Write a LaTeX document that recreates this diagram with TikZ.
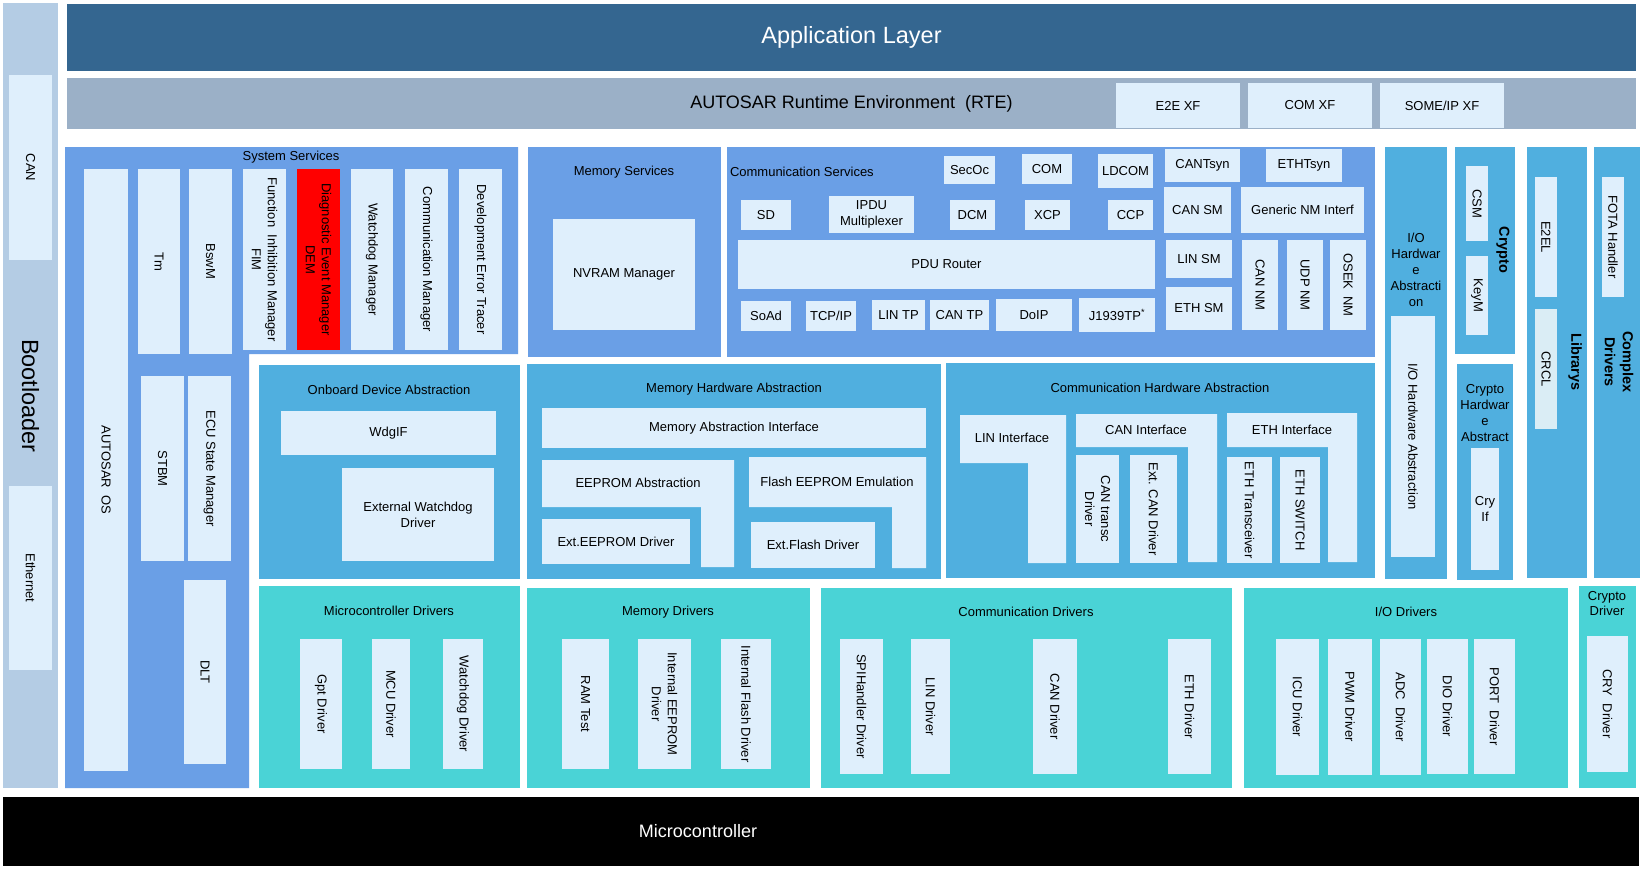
\documentclass[tikz,border=0pt]{standalone}
\usepackage{fontspec}
\setmainfont{Liberation Sans}
\definecolor{app}{RGB}{52,102,144}
\definecolor{rte}{RGB}{155,176,199}
\definecolor{boot}{RGB}{180,204,228}
\definecolor{lite}{RGB}{223,239,252}
\definecolor{svc}{RGB}{106,159,230}
\definecolor{hwa}{RGB}{80,175,223}
\definecolor{drv}{RGB}{74,211,214}
\definecolor{crcl}{RGB}{218,237,245}
\newcommand\fsm{\fontsize{13}{16}\selectfont}
\newcommand\bfsm{\fontsize{14.5}{18}\selectfont\bfseries}
% horizontal box: style, name, x1, y1, x2, y2, text
\newcommand\hb[7]{\pgfmathsetmacro\Bw{#5-#3}\pgfmathsetmacro\Bh{#6-#4}%
 \pgfmathsetmacro\Cx{(#3+#5)/2}\pgfmathsetmacro\Cy{(#4+#6)/2}%
 \node[#1, minimum width=\Bw pt, minimum height=\Bh pt] (#2) at (\Cx,\Cy) {#7};}
% vertical box with rotated text
\newcommand\vb[7]{\pgfmathsetmacro\Bw{#5-#3}\pgfmathsetmacro\Bh{#6-#4}%
 \pgfmathsetmacro\Cx{(#3+#5)/2}\pgfmathsetmacro\Cy{(#4+#6)/2}%
 \node[#1, rotate=-90, minimum width=\Bh pt, minimum height=\Bw pt] (#2) at (\Cx,\Cy) {#7};}
\begin{document}
\begin{tikzpicture}[x=1pt,y=-1pt,
  every node/.style={inner sep=0pt, outer sep=0pt},
  lt/.style={fill=lite, font=\fsm, align=center},
  lab/.style={font=\fsm, align=center},
  big/.style={rotate=-90, font=\bfsm, align=center}]
\useasboundingbox (0,0) rectangle (1641,868);
\fill[white] (0,0) rectangle (1641,868);

% top layers
\hb{fill=app, text=white, font=\fontsize{23.5}{28}\selectfont}{appl}{67}{4}{1636}{71}{Application Layer}
\hb{fill=rte, font=\fontsize{18}{22}\selectfont}{rte}{67}{78}{1636}{129}{AUTOSAR Runtime Environment~~(RTE)}
\hb{lt}{e2exf}{1116}{83}{1240}{128}{E2E XF}
\hb{lt}{comxf}{1248}{83}{1372}{128}{COM XF}
\hb{lt}{someipxf}{1380}{83}{1504}{128}{SOME/IP XF}

% bootloader
\hb{fill=boot}{boot}{3}{3}{58}{788}{}
\vb{lt}{can}{9}{75}{52}{260}{CAN}
\vb{lt}{eth}{9}{486}{52}{670}{Ethernet}
\node[rotate=-90, font=\fontsize{23.5}{28}\selectfont] (bootl) at (30.5,396) {Bootloader};

% system services
\fill[svc] (65,147) -- (518,147) -- (518,354) -- (249,354) -- (249,788) -- (65,788) -- cycle;
\node[lab] (syssvcl) at (291,157) {System Services};
\vb{lt}{os}{84}{169}{128}{771}{AUTOSAR~~OS}
\vb{lt}{tm}{138}{169}{180}{354}{Tm}
\vb{lt}{bswm}{189}{169}{232}{354}{BswM}
\vb{lt}{fim}{243}{169}{286}{350}{Function~~Inhibition Manager\\FIM}
\vb{fill=red, font=\fsm, align=center}{dem}{297}{169}{340}{350}{Diagnostic Event Manager\\DEM}
\vb{lt}{wdgm}{351}{169}{393}{350}{Watchdog Manager}
\vb{lt}{comm}{405}{169}{448}{350}{Communication Manager}
\vb{lt}{det}{459}{169}{502}{350}{Development Error Tracer}
\vb{lt}{stbm}{141}{376}{184}{561}{STBM}
\vb{lt}{ecum}{188}{376}{231}{561}{ECU State Manager}
\vb{lt}{dlt}{184}{580}{226}{764}{DLT}

% memory services
\hb{fill=svc}{memsvc}{528}{147}{721}{357}{}
\node[lab] (memsvcl) at (624,172) {Memory Services};
\hb{lt}{nvram}{553}{219}{695}{330}{NVRAM Manager}

% communication services
\hb{fill=svc}{comsvc}{727}{147}{1375}{357}{}
\node[lab, anchor=west] (comsvcl) at (730,172) {Communication Services};
\hb{lt}{secoc}{944}{156}{995}{184}{SecOc}
\hb{lt}{com}{1022}{154}{1072}{184}{COM}
\hb{lt}{ldcom}{1098}{154}{1153}{188}{LDCOM}
\hb{lt}{cantsyn}{1165}{149}{1240}{182}{CANTsyn}
\hb{lt}{ethtsyn}{1266}{149}{1342}{182}{ETHTsyn}
\hb{lt}{sd}{741}{200}{791}{230}{SD}
\hb{lt}{ipdum}{829}{196}{914}{233}{IPDU\\Multiplexer}
\hb{lt}{dcm}{950}{200}{995}{230}{DCM}
\hb{lt}{xcp}{1025}{200}{1070}{230}{XCP}
\hb{lt}{ccp}{1108}{200}{1153}{230}{CCP}
\hb{lt}{cansm}{1164}{187}{1231}{233}{CAN SM}
\hb{lt}{gennm}{1241}{187}{1364}{233}{Generic NM Interf}
\hb{lt}{pdur}{738}{240}{1155}{289}{PDU Router}
\hb{lt}{linsm}{1166}{240}{1232}{278}{LIN SM}
\hb{lt}{ethsm}{1166}{287}{1232}{330}{ETH SM}
\vb{lt}{cannm}{1242}{240}{1278}{330}{CAN NM}
\vb{lt}{udpnm}{1287}{240}{1323}{330}{UDP NM}
\vb{lt}{oseknm}{1330}{240}{1366}{330}{OSEK~~NM}
\hb{lt}{soad}{741}{301}{791}{331}{SoAd}
\hb{lt}{tcpip}{806}{301}{856}{331}{TCP/IP}
\hb{lt}{lintp}{872}{300}{925}{330}{LIN TP}
\hb{lt}{cantp}{930}{300}{989}{330}{CAN TP}
\hb{lt}{doip}{996}{299}{1072}{331}{DoIP}
\hb{lt}{jtp}{1079}{298}{1155}{332}{J1939TP\textsuperscript{*}}

% right columns
\hb{fill=hwa}{iohwa}{1385}{147}{1447}{579}{}
\node[lab] (iohwal) at (1416,270) {I/O\\Hardwar\\e\\Abstracti\\on};
\vb{lt}{iohwai}{1391}{316}{1435}{557}{I/O Hardware Abstraction}
\hb{fill=hwa}{crypto}{1455}{147}{1515}{354}{}
\vb{lt}{csm}{1466}{166}{1488}{241}{CSM}
\vb{lt}{keym}{1466}{256}{1488}{335}{KeyM}
\node[big] (cryptol) at (1503,250) {Crypto};
\hb{fill=hwa}{cryhwa}{1457}{364}{1513}{580}{}
\node[lab] (cryhwal) at (1485,413) {Crypto\\Hardwar\\e\\Abstract};
\hb{lt}{cryif}{1471}{448}{1499}{570}{Cry\\If}
\hb{fill=hwa}{libs}{1527}{147}{1587}{578}{}
\vb{lt}{e2el}{1535}{177}{1557}{297}{E2EL}
\vb{fill=crcl, font=\fsm}{crcl}{1535}{309}{1557}{429}{CRCL}
\node[big] (libsl) at (1575,362) {Librarys};
\hb{fill=hwa}{cdd}{1594}{147}{1640}{578}{}
\vb{lt}{fota}{1602}{177}{1624}{297}{FOTA Handler}
\node[big] (cddl) at (1619,362) {Complex\\Drivers};

% hardware abstraction
\hb{fill=hwa}{onb}{259}{365}{520}{579}{}
\node[lab] (onbl) at (389,390) {Onboard Device Abstraction};
\hb{lt}{wdgif}{281}{411}{496}{455}{WdgIF}
\hb{lt}{extwdg}{342}{468}{494}{561}{External Watchdog\\Driver}

\hb{fill=hwa}{memhwa}{527}{364}{941}{579}{}
\node[lab] (memhwal) at (734,389) {Memory Hardware Abstraction};
\hb{lt}{memif}{542}{408}{926}{448}{Memory Abstraction Interface}
\fill[lite] (542,460) -- (734,460) -- (734,567) -- (701,567) -- (701,507) -- (542,507) -- cycle;
\node[lab] (eepabs) at (638,483) {EEPROM Abstraction};
\hb{lt}{exteep}{542}{519}{690}{564}{Ext.EEPROM Driver}
\fill[lite] (749,457) -- (926,457) -- (926,568) -- (892,568) -- (892,507) -- (749,507) -- cycle;
\node[lab] (fee) at (837,482) {Flash EEPROM Emulation};
\hb{lt}{extfls}{751}{522}{875}{568}{Ext.Flash Driver}

\hb{fill=hwa}{comhwa}{946}{363}{1375}{578}{}
\node[lab] (comhwal) at (1160,388) {Communication Hardware Abstraction};
\fill[lite] (960,415) -- (1066,415) -- (1066,563) -- (1028,563) -- (1028,463) -- (960,463) -- cycle;
\node[lab] (linif) at (1012,438) {LIN Interface};
\fill[lite] (1076,414) -- (1217,414) -- (1217,562) -- (1188,562) -- (1188,447) -- (1076,447) -- cycle;
\node[lab] (canif) at (1146,430) {CAN Interface};
\vb{lt}{cantrcv}{1076}{455}{1119}{563}{CAN transc\\Driver}
\vb{lt}{extcan}{1130}{455}{1177}{563}{Ext. CAN Driver}
\fill[lite] (1227,413) -- (1357,413) -- (1357,562) -- (1328,562) -- (1328,447) -- (1227,447) -- cycle;
\node[lab] (ethif) at (1292,430) {ETH Interface};
\vb{lt}{ethtrcv}{1227}{457}{1272}{563}{ETH Transceiver}
\vb{lt}{ethswt}{1280}{457}{1320}{563}{ETH SWITCH}

% drivers
\hb{fill=drv}{mcudrv}{259}{586}{520}{788}{}
\node[lab] (mcudrvl) at (389,611) {Microcontroller Drivers};
\vb{lt}{gpt}{300}{639}{342}{769}{Gpt Driver}
\vb{lt}{mcud}{372}{639}{410}{769}{MCU Driver}
\vb{lt}{wdg}{443}{639}{483}{769}{Watchdog Driver}

\hb{fill=drv}{memdrv}{527}{588}{810}{788}{}
\node[lab] (memdrvl) at (668,612) {Memory Drivers};
\vb{lt}{ramtst}{562}{639}{609}{769}{RAM Test}
\vb{lt}{eep}{638}{639}{691}{769}{Internal EEPROM\\Driver}
\vb{lt}{fls}{721}{639}{771}{769}{Internal Flash Driver}

\hb{fill=drv}{comdrv}{821}{588}{1232}{788}{}
\node[lab] (comdrvl) at (1026,612) {Communication Drivers};
\vb{lt}{spi}{840}{639}{883}{774}{SPIHandler Driver}
\vb{lt}{lin}{911}{639}{950}{774}{LIN Driver}
\vb{lt}{candrv}{1033}{639}{1077}{774}{CAN Driver}
\vb{lt}{ethdrv}{1168}{639}{1211}{774}{ETH Driver}

\hb{fill=drv}{iodrv}{1244}{588}{1568}{788}{}
\node[lab] (iodrvl) at (1406,612) {I/O Drivers};
\vb{lt}{icu}{1276}{639}{1319}{775}{ICU Driver}
\vb{lt}{pwm}{1328}{639}{1372}{775}{PWM Driver}
\vb{lt}{adc}{1380}{639}{1421}{775}{ADC~~Driver}
\vb{lt}{dio}{1427}{639}{1468}{774}{DIO Driver}
\vb{lt}{port}{1474}{639}{1515}{774}{PORT~~Driver}

\hb{fill=drv}{crydrv}{1579}{586}{1636}{788}{}
\node[lab, font=\fontsize{13}{15}\selectfont] (crydrvl) at (1607,604) {Crypto\\Driver};
\vb{lt}{cry}{1587}{636}{1628}{772}{CRY~~Driver}

% microcontroller
\hb{fill=black}{uc}{3}{797}{1639}{866}{}
\node[text=white, font=\fontsize{18}{22}\selectfont] (ucl) at (698,831) {Microcontroller};
\end{tikzpicture}
\end{document}
